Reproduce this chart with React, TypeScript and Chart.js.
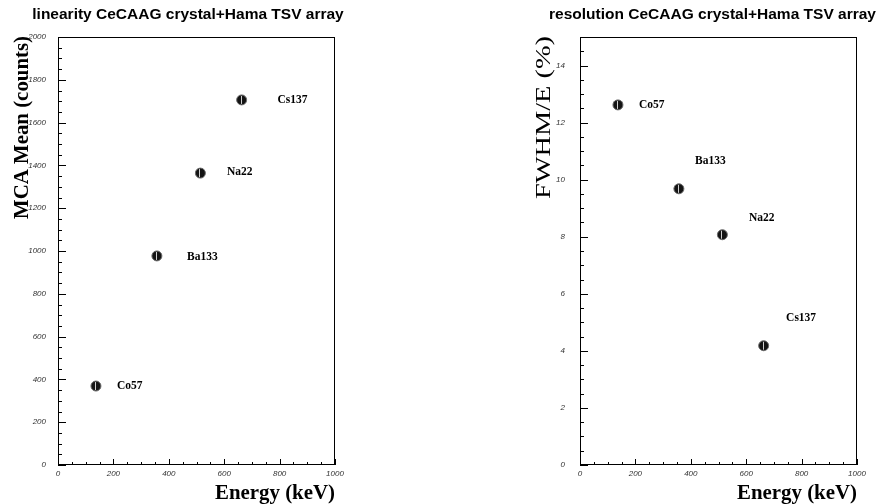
import React, { useEffect, useRef } from "react";
import { Chart, registerables } from "chart.js";

Chart.register(...registerables);

// ---- data ----
const sources = ["Co57", "Ba133", "Na22", "Cs137"];
const energyKeV = [137, 357, 514, 663];
const mcaMean = [369, 977, 1364, 1706];
const fwhmPct = [12.62, 9.68, 8.07, 4.18];
// label anchor positions (data units)
const linLabelX = [213, 466, 610, 792];
const linLabelY = [369, 973, 1368, 1706];
const resLabelX = [213, 415, 610, 744];
const resLabelY = [12.63, 10.67, 8.65, 5.14];

const xRange = [0, 1000];
const linRange = [0, 2000];
const resRange = [0, 15];

type PlotDef = {
  title: string;
  titleX: number;
  yTitle: string;
  yTitleFont: string;
  yTitleX: number;
  yTitleLen: number;
  values: number[];
  labelX: number[];
  labelY: number[];
  yMin: number;
  yMax: number;
  yStep: number;
  yMinor: number;
  yPad: number;
  padLeft: number;
  padRight: number;
};

function drawFitted(
  ctx: CanvasRenderingContext2D,
  text: string,
  x: number,
  y: number,
  width: number,
  align: CanvasTextAlign
) {
  const w = ctx.measureText(text).width;
  const s = width / w;
  ctx.save();
  ctx.translate(x, y);
  ctx.scale(s, 1);
  ctx.textAlign = align;
  ctx.fillText(text, 0, 0);
  ctx.restore();
}

function makeConfig(d: PlotDef): any {
  const decor = {
    id: "decor",
    afterDatasetsDraw(chart: any) {
      const ctx: CanvasRenderingContext2D = chart.ctx;
      const meta = chart.getDatasetMeta(0);
      ctx.save();
      ctx.strokeStyle = "#d0d0d0";
      ctx.lineWidth = 1;
      meta.data.forEach((pt: any) => {
        ctx.beginPath();
        ctx.moveTo(Math.round(pt.x) - 0.5, pt.y - 4);
        ctx.lineTo(Math.round(pt.x) - 0.5, pt.y + 4);
        ctx.stroke();
      });
      ctx.restore();
    },
    afterDraw(chart: any) {
      const ctx: CanvasRenderingContext2D = chart.ctx;
      const a = chart.chartArea;
      const xs = chart.scales.x;
      const ys = chart.scales.y;
      ctx.save();
      // frame
      ctx.strokeStyle = "#000";
      ctx.lineWidth = 1;
      ctx.strokeRect(a.left + 0.5, a.top + 0.5, a.right - a.left - 1, a.bottom - a.top - 1);
      // inward ticks x
      ctx.beginPath();
      for (let v = xRange[0]; v <= xRange[1] + 1e-9; v += 50) {
        const px = Math.round(xs.getPixelForValue(v)) + 0.5;
        const len = v % 200 === 0 ? 6 : 3;
        ctx.moveTo(px, a.bottom);
        ctx.lineTo(px, a.bottom - len);
      }
      // inward ticks y
      for (let v = d.yMin; v <= d.yMax + 1e-9; v += d.yMinor) {
        const py = Math.round(ys.getPixelForValue(v)) + 0.5;
        const major = Math.abs(v / d.yStep - Math.round(v / d.yStep)) < 1e-6;
        const len = major ? 8 : 4;
        ctx.moveTo(a.left, py);
        ctx.lineTo(a.left + len, py);
      }
      ctx.stroke();

      // point labels
      ctx.fillStyle = "#000";
      ctx.font = 'bold 11.5px "Liberation Serif"';
      ctx.textAlign = "left";
      ctx.textBaseline = "middle";
      sources.forEach((s, i) => {
        ctx.fillText(s, xs.getPixelForValue(d.labelX[i]), ys.getPixelForValue(d.labelY[i]));
      });

      // title
      ctx.font = 'bold 15.5px "Liberation Sans"';
      ctx.textAlign = "center";
      ctx.textBaseline = "middle";
      ctx.fillText(d.title, d.titleX, 15);

      // x title
      ctx.font = 'bold 20px "Liberation Serif"';
      ctx.textBaseline = "alphabetic";
      drawFitted(ctx, "Energy (keV)", a.right, 499, 120, "right");

      // y title
      ctx.save();
      ctx.translate(d.yTitleX, a.top - 1);
      ctx.rotate(-Math.PI / 2);
      ctx.font = d.yTitleFont;
      ctx.textBaseline = "alphabetic";
      drawFitted(ctx, d.yTitle, 0, 0, d.yTitleLen, "right");
      ctx.restore();

      ctx.restore();
    },
  };

  const tickFont = { family: '"Liberation Sans"', size: 8, style: "italic" as const };

  return {
    type: "scatter",
    data: {
      datasets: [
        {
          data: energyKeV.map((e, i) => ({ x: e, y: d.values[i] })),
          pointRadius: 5,
          pointHoverRadius: 5,
          backgroundColor: "#141414",
          borderColor: "#6a6a6a",
          borderWidth: 1,
          showLine: false,
        },
      ],
    },
    options: {
      responsive: false,
      animation: false,
      events: [],
      layout: { padding: { top: 37, left: d.padLeft, right: d.padRight, bottom: 0 } },
      plugins: { legend: { display: false }, tooltip: { enabled: false }, title: { display: false } },
      scales: {
        x: {
          type: "linear",
          min: xRange[0],
          max: xRange[1],
          grid: { display: false, drawTicks: false },
          border: { display: false },
          ticks: {
            stepSize: 200,
            autoSkip: false,
            maxRotation: 0,
            padding: 4,
            color: "#333",
            font: tickFont,
            callback: (v: number) => String(v),
          },
          afterFit: (s: any) => {
            s.height = 39;
          },
        },
        y: {
          type: "linear",
          min: d.yMin,
          max: d.yMax,
          grid: { display: false, drawTicks: false },
          border: { display: false },
          ticks: {
            stepSize: d.yStep,
            autoSkip: false,
            padding: d.yPad,
            color: "#333",
            font: tickFont,
            callback: (v: number) =>
              Math.abs(v / d.yStep - Math.round(v / d.yStep)) < 1e-6 ? String(v) : "",
          },
          afterFit: (s: any) => {
            s.width = 58;
          },
        },
      },
    },
    plugins: [decor],
  };
}

const linearityDef: PlotDef = {
  title: "linearity CeCAAG crystal+Hama TSV array",
  titleX: 188,
  yTitle: "MCA Mean (counts)",
  yTitleFont: 'bold 21px "Liberation Serif"',
  yTitleX: 28,
  yTitleLen: 183,
  values: mcaMean,
  labelX: linLabelX,
  labelY: linLabelY,
  yMin: linRange[0],
  yMax: linRange[1],
  yStep: 200,
  yMinor: 50,
  yPad: 12,
  padLeft: 0,
  padRight: 104,
};

const resolutionDef: PlotDef = {
  title: "resolution CeCAAG crystal+Hama TSV array",
  titleX: 273.5,
  yTitle: "FWHM/E (%)",
  yTitleFont: '21px "Liberation Serif"',
  yTitleX: 111,
  yTitleLen: 163,
  values: fwhmPct,
  labelX: resLabelX,
  labelY: resLabelY,
  yMin: resRange[0],
  yMax: resRange[1],
  yStep: 2,
  yMinor: 0.5,
  yPad: 15,
  padLeft: 83,
  padRight: 21,
};

function Plot({ def, left }: { def: PlotDef; left: number }) {
  const ref = useRef<HTMLCanvasElement | null>(null);
  useEffect(() => {
    if (!ref.current) return;
    const chart = new Chart(ref.current, makeConfig(def));
    return () => chart.destroy();
  }, [def]);
  return (
    <canvas
      ref={ref}
      width={439}
      height={504}
      style={{ position: "absolute", left, top: 0, width: 439, height: 504 }}
    />
  );
}

export default function App() {
  return (
    <div
      style={{
        position: "fixed",
        left: 0,
        top: 0,
        width: 878,
        height: 504,
        background: "#fff",
        overflow: "hidden",
      }}
    >
      <Plot def={linearityDef} left={0} />
      <Plot def={resolutionDef} left={439} />
    </div>
  );
}
